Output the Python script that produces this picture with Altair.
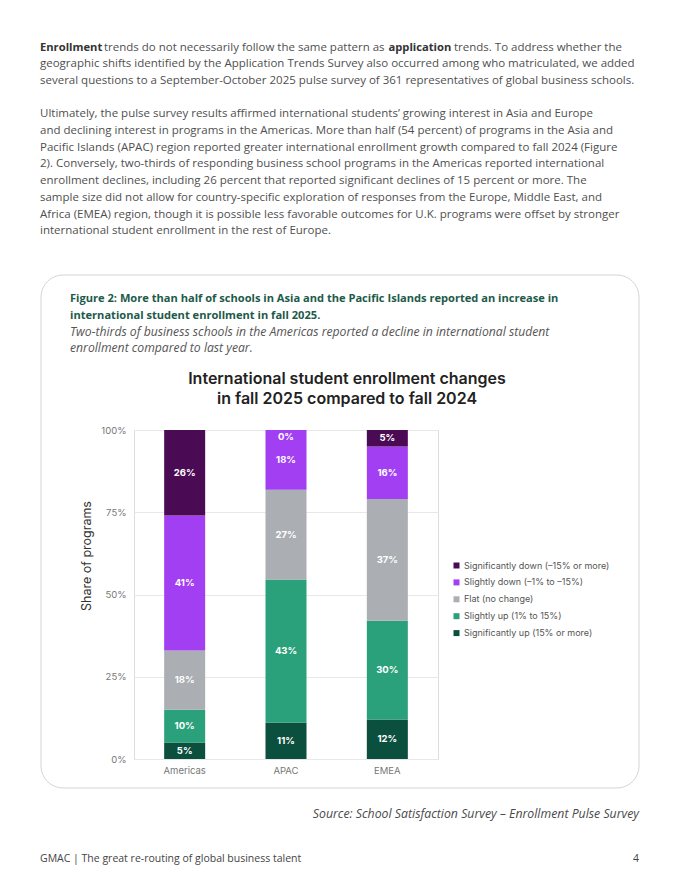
import altair as alt
import pandas as pd

# ---------------- data ----------------
regions = ["Americas", "APAC", "EMEA"]
categories = [
    "Significantly down (–15% or more)",
    "Slightly down (–1% to –15%)",
    "Flat (no change)",
    "Slightly up (1% to 15%)",
    "Significantly up (15% or more)",
]
colors = ["#4b0a54", "#a23ff2", "#abaeb2", "#2aa17b", "#0b4f3e"]
sig_down = [26, 0, 5]
slight_down = [41, 18, 16]
flat = [18, 27, 37]
slight_up = [10, 43, 30]
sig_up = [5, 11, 12]
y_ticks = [0, 0.25, 0.5, 0.75, 1]

para1 = [
    "geographic shifts identified by the Application Trends Survey also occurred among who matriculated, we added",
    "several questions to a September-October 2025 pulse survey of 361 representatives of global business schools.",
]
para2 = [
    "Ultimately, the pulse survey results affirmed international students’ growing interest in Asia and Europe",
    "and declining interest in programs in the Americas. More than half (54 percent) of programs in the Asia and",
    "Pacific Islands (APAC) region reported greater international enrollment growth compared to fall 2024 (Figure",
    "2). Conversely, two-thirds of responding business school programs in the Americas reported international",
    "enrollment declines, including 26 percent that reported significant declines of 15 percent or more. The",
    "sample size did not allow for country-specific exploration of responses from the Europe, Middle East, and",
    "Africa (EMEA) region, though it is possible less favorable outcomes for U.K. programs were offset by stronger",
    "international student enrollment in the rest of Europe.",
]
fig_title = [
    "Figure 2: More than half of schools in Asia and the Pacific Islands reported an increase in",
    "international student enrollment in fall 2025.",
]
fig_sub = [
    "Two-thirds of business schools in the Americas reported a decline in international student",
    "enrollment compared to last year.",
]
chart_title = [
    "International student enrollment changes",
    "in fall 2025 compared to fall 2024",
]
source = "Source: School Satisfaction Survey – Enrollment Pulse Survey"
footer = "GMAC | The great re-routing of global business talent"
page_no = "4"

series = [sig_down, slight_down, flat, slight_up, sig_up]
rows = []
for ci, (cat, vals) in enumerate(zip(categories, series)):
    for r, v in zip(regions, vals):
        rows.append({"region": r, "category": cat, "value": v, "order": len(categories) - 1 - ci})
df = pd.DataFrame(rows)

# ---------------- layout ----------------
OX, OY = 134, 430          # page position of plot origin
W, H = 304, 329
BODY = "Open Sans"
BODY_SIZE = 11.5
BODY_COLOR = "#4f4f4f"


def txt(s, X, Y, size=BODY_SIZE, weight="normal", style="normal", color=BODY_COLOR,
        align="left", font=BODY, angle=0):
    kw = dict(align=align, baseline="middle", fontSize=size, fontWeight=weight,
              fontStyle=style, color=color, font=font)
    if angle:
        kw["angle"] = angle
    return alt.Chart(pd.DataFrame({"t": [s]})).mark_text(**kw).encode(
        text="t:N", x=alt.value(X - OX), y=alt.value(Y - OY))


layers = []

# figure box
layers.append(
    alt.Chart(pd.DataFrame({"a": [0]})).mark_rect(
        fill="white", fillOpacity=0, stroke="#d4d4d4", strokeWidth=1, cornerRadius=22
    ).encode(x=alt.value(41 - OX), x2=alt.value(639 - OX),
             y=alt.value(275 - OY), y2=alt.value(788 - OY))
)

# paragraph 1 (line 1 has bold words)
layers.append(txt("Enrollment", 40, 47.5, weight="bold", color="#333333", size=11.2))
layers.append(txt("trends do not necessarily follow the same pattern as", 104, 47.5))
layers.append(txt("application", 388.5, 47.5, weight="bold", color="#333333", size=11.2))
layers.append(txt("trends. To address whether the", 454, 47.5))
for i, line in enumerate(para1):
    layers.append(txt(line, 40, 64.2 + i * 16.7))
for i, line in enumerate(para2):
    layers.append(txt(line, 40, 114.3 + i * 16.7))

# figure titles
for i, line in enumerate(fig_title):
    layers.append(txt(line, 70, 299 + i * 16.5, size=11.1, weight="bold", color="#1d5a49"))
for i, line in enumerate(fig_sub):
    layers.append(txt(line, 70, 332 + i * 15.5, size=12.2, style="italic", color="#555555"))
for i, line in enumerate(chart_title):
    layers.append(txt(line, 347, 379 + i * 19.5, size=16, weight=600, color="#222222",
                      align="center", font="Inter"))

# y axis title
layers.append(txt("Share of programs", 87, 556, size=12.5, color="#333333", align="center",
                  angle=270, font="Inter"))

# source and footer
layers.append(txt(source, 639, 814, size=12.3, style="italic", color="#4a4a4a", align="right"))
layers.append(txt(footer, 40, 859, size=10.5, color="#444444"))
layers.append(txt(page_no, 639, 859, size=10.5, color="#444444", align="right"))

# bars
base = alt.Chart(df).transform_stack(
    stack="value", groupby=["region"], as_=["y0", "y1"], offset="normalize",
    sort=[alt.SortField("order", order="ascending")]
).transform_calculate(
    mid="min((datum.y0 + datum.y1) / 2, 0.98)",
    label="datum.value + '%'"
)

xenc = alt.X("region:N", sort=regions, title=None,
             scale=alt.Scale(paddingInner=0, paddingOuter=0),
             axis=alt.Axis(labelAngle=0, ticks=False, domain=False, grid=False,
                           labelPadding=6, labelFontSize=9.5, labelColor="#777777",
                           labelFont="Inter"))

bars = base.mark_bar(size=41).encode(
    x=xenc,
    y=alt.Y("y0:Q", scale=alt.Scale(domain=[0, 1]), title=None,
            axis=alt.Axis(values=y_ticks, format=".0%", domain=False, ticks=False,
                          gridColor="#e8e8e8", labelPadding=8, labelFontSize=9.5,
                          labelColor="#777777", labelFont="Inter")),
    y2="y1:Q",
    color=alt.Color("category:N", scale=alt.Scale(domain=categories, range=colors),
                    legend=alt.Legend(orient="none", legendX=452 - OX, legendY=131,
                                      title=None, symbolType="square", symbolSize=36,
                                      symbolStrokeWidth=0, labelFontSize=9,
                                      labelColor="#555555", labelFont="Inter",
                                      labelLimit=300, rowPadding=6.9, labelOffset=3)),
    order=alt.Order("order:Q"),
)

labels = base.mark_text(color="white", fontWeight="bold", fontSize=9.5, font="Inter",
                        baseline="middle").encode(
    x=alt.X("region:N", sort=regions),
    y=alt.Y("mid:Q"),
    text="label:N",
)

layers.append(bars)
layers.append(labels)

chart = alt.layer(*layers).properties(
    width=W, height=H,
    autosize=alt.AutoSizeParams(type="none"),
    padding={"left": OX - 8, "top": OY - 8, "right": 664 - (OX - 8) - W,
             "bottom": 864 - (OY - 8) - H},
).configure_view(strokeWidth=0).configure(font=BODY)

chart.save("out.html", embed_options={"renderer": "svg", "actions": False})
